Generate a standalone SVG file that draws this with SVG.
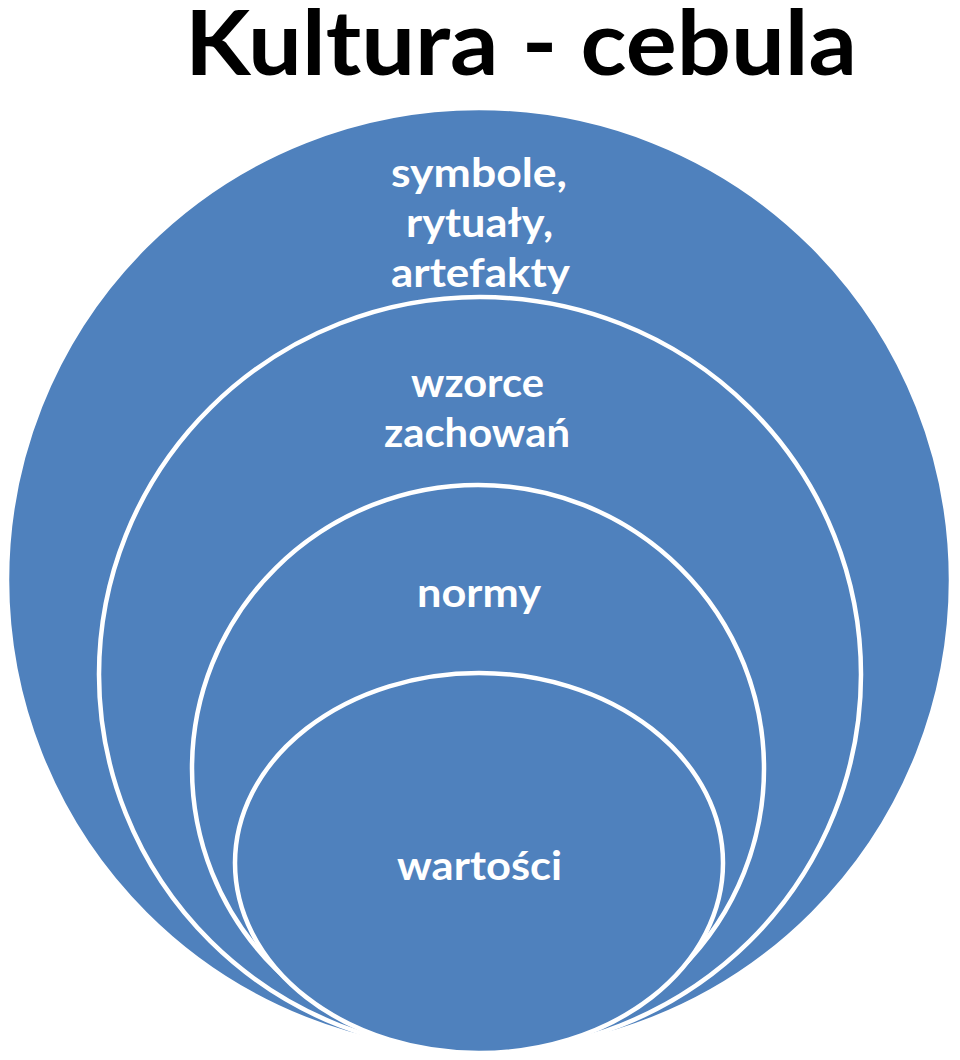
<svg xmlns="http://www.w3.org/2000/svg" width="960" height="1060" viewBox="0 0 960 1060">
  <style>
    .layer { fill: #4F81BD; stroke: #FFFFFF; stroke-width: 4.5; }
    .lbl { font-family: Lato, "Liberation Sans", sans-serif; font-weight: bold; font-size: 40px; fill: #FFFFFF; }
    .title { font-family: Lato, "Liberation Sans", sans-serif; font-weight: bold; font-size: 90px; fill: #000000; }
  </style>
  <rect x="0" y="0" width="960" height="1060" fill="#FFFFFF"/>
  <text class="title" x="185" y="75" textLength="672" lengthAdjust="spacingAndGlyphs">Kultura - cebula</text>
  <g id="node-symbole">
    <ellipse class="layer" cx="479" cy="580" rx="472" ry="472"/>
    <text class="lbl" x="391" y="187" textLength="176" lengthAdjust="spacingAndGlyphs">symbole,</text>
    <text class="lbl" x="406" y="237" textLength="147" lengthAdjust="spacingAndGlyphs">rytuały,</text>
    <text class="lbl" x="391" y="287" textLength="179" lengthAdjust="spacingAndGlyphs">artefakty</text>
  </g>
  <g id="node-wzorce">
    <ellipse class="layer" cx="480" cy="674.5" rx="381" ry="377.5"/>
    <text class="lbl" x="411" y="397" textLength="133" lengthAdjust="spacingAndGlyphs">wzorce</text>
    <text class="lbl" x="384" y="447" textLength="186" lengthAdjust="spacingAndGlyphs">zachowań</text>
  </g>
  <g id="node-normy">
    <ellipse class="layer" cx="478" cy="768.5" rx="286" ry="283.5"/>
    <text class="lbl" x="417" y="607" textLength="124" lengthAdjust="spacingAndGlyphs">normy</text>
  </g>
  <g id="node-wartosci">
    <ellipse class="layer" cx="479" cy="863" rx="244" ry="190"/>
    <text class="lbl" x="397" y="880" textLength="165" lengthAdjust="spacingAndGlyphs">wartości</text>
  </g>
  <g id="connectors"></g>
</svg>
